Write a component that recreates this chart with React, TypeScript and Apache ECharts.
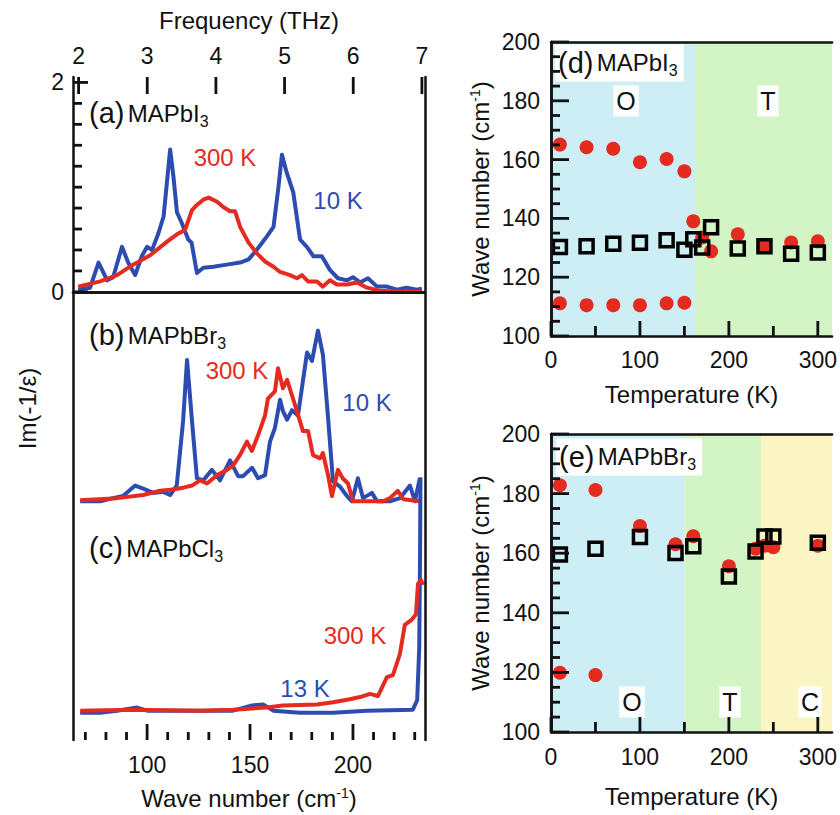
import React, { useEffect, useRef } from "react";
import * as echarts from "echarts";

// ---------- data ----------
const WN_MIN = 64;
const WN_MAX = 235;
const IM_MIN = -4.28;
const IM_MAX = 2.052;
const CM_PER_THZ = 33.356;
const freqTicks = [2, 3, 4, 5, 6, 7];
const wnMajorTicks = [100, 150, 200];
const wnMinorTicks = [70, 80, 90, 110, 120, 130, 140, 160, 170, 180, 190, 210, 220, 230];
const imMinorTicks = [0.2, 0.4, 0.6, 0.8, 1.0, 1.2, 1.4, 1.6, 1.8];
const imMajorTicks = [0, 2];
const panelOffsets = [0, -2, -4];

const a10K: [number, number][] = [
  [66.5, 0.02], [72.3, 0.04], [76.4, 0.28], [80.6, 0.11], [83.5, 0.14], [87.8, 0.43], [90.8, 0.28],
  [94.2, 0.16], [97.4, 0.34], [100, 0.43], [102.4, 0.4], [105.5, 0.56], [108, 0.72], [109.6, 1.04],
  [111.2, 1.36], [112.8, 1.1], [114.5, 0.76], [116.8, 0.66], [120, 0.5], [121.6, 0.47], [124.2, 0.18],
  [127.3, 0.23], [132.2, 0.24], [138.7, 0.26], [145.2, 0.28], [149.3, 0.31], [153.2, 0.4], [158.2, 0.53],
  [161.4, 0.62], [163.8, 1.0], [165.5, 1.31], [167.8, 1.14], [171, 0.95], [174.3, 0.5], [177.6, 0.43],
  [180.8, 0.34], [184.9, 0.34], [188.8, 0.21], [192.7, 0.13], [197.1, 0.11], [200, 0.14], [203.4, 0.09],
  [207.3, 0.13], [211.7, 0.05], [216.5, 0.05], [221.4, 0.02], [226, 0.04], [231, 0.02], [233.5, 0.03],
];
const a300K: [number, number][] = [
  [66.5, 0.05], [77.2, 0.1], [85.4, 0.16], [93.2, 0.26], [101.5, 0.35], [109.7, 0.48], [114.5, 0.55],
  [118.4, 0.59], [121.8, 0.78], [124.2, 0.83], [127.3, 0.88], [129.9, 0.9], [134, 0.86], [137, 0.81],
  [140.3, 0.77], [142.7, 0.77], [145.2, 0.62], [149.3, 0.47], [153.2, 0.37], [157.3, 0.29], [161.4, 0.24],
  [164.6, 0.19], [169.4, 0.16], [172.8, 0.13], [175.2, 0.16], [178.2, 0.1], [182.5, 0.1], [185.4, 0.05],
  [188.8, 0.11], [192.2, 0.07], [197.1, 0.07], [202, 0.09], [206.8, 0.04], [213.1, 0.01], [222.8, 0.0],
  [233.5, 0.0],
];
const b10K: [number, number][] = [
  [67.5, 0], [77.2, 0], [83.5, 0.03], [88.3, 0.05], [94.2, 0.15], [98.1, 0.12], [103, 0.08], [107.8, 0.09],
  [111.2, 0.06], [114.4, 0.15], [117.5, 0.77], [119.4, 1.35], [121.8, 0.77], [124.2, 0.22], [127.3, 0.2],
  [131.5, 0.3], [135.4, 0.2], [140.3, 0.39], [144.2, 0.24], [146.6, 0.24], [151, 0.32], [153.9, 0.22],
  [157.3, 0.25], [159.7, 0.57], [162.1, 0.7], [164.6, 0.97], [166, 0.86], [168, 0.78], [170.4, 0.87],
  [173.3, 0.82], [175.7, 1.15], [177.7, 1.42], [180.1, 1.34], [183, 1.63], [185.4, 1.4], [187.9, 0.8],
  [190.3, 0.19], [193.7, 0.14], [197.1, 0.05], [199.5, 0], [202.4, 0.22], [204.9, 0.03], [209.2, 0.08],
  [211.7, 0], [218, 0], [222.8, 0.03], [227.7, 0.15], [230.1, 0], [232.5, 0.22],
];
const b300K: [number, number][] = [
  [67.5, 0.01], [85.4, 0.03], [98, 0.06], [106.3, 0.1], [111.2, 0.11], [117.5, 0.13], [121.8, 0.15],
  [125.7, 0.2], [129.1, 0.17], [134, 0.25], [138.8, 0.3], [141.7, 0.34], [145.1, 0.44], [148.5, 0.57],
  [150.9, 0.48], [153.9, 0.63], [157.3, 0.82], [158.7, 0.98], [162.1, 1.05], [163.6, 1.27], [166, 1.08],
  [168, 1.16], [170.4, 1.01], [172.8, 0.86], [175.7, 0.67], [178.2, 0.67], [180.6, 0.44], [184, 0.41],
  [185.4, 0.46], [187.9, 0.25], [189.8, 0.05], [192.7, 0.3], [195, 0.22], [197.6, 0.17], [200, 0],
  [214.6, 0], [218, 0.03], [221.8, 0.1], [224.5, 0.02], [232.5, 0],
];
const c13K: [number, number][] = [
  [67.5, -0.02], [77.2, -0.02], [85.4, 0], [95.1, 0.03], [100, 0], [141.7, 0], [151, 0.05], [156.3, 0.06],
  [161.4, 0], [174.3, -0.02], [190.3, -0.02], [206.8, 0], [229.1, 0.01], [231.2, 0.1], [232.2, 0.6],
  [232.6, 1.5], [232.8, 2.23],
];
const c300K: [number, number][] = [
  [67.5, 0], [93.2, 0.01], [125.7, 0], [141.7, 0.01], [158.2, 0.03], [166, 0.05], [182.5, 0.06],
  [190.3, 0.08], [198.5, 0.11], [203.4, 0.13], [208.3, 0.16], [212.1, 0.14], [216.5, 0.32], [219.4, 0.34],
  [222.8, 0.54], [225.2, 0.82], [228.6, 0.87], [230.6, 0.92], [231.6, 1.21], [233, 1.25], [234, 1.2],
];

const T_MAX = 316;
const W_MIN = 100;
const W_MAX = 200;
const tMajorTicks = [0, 100, 200, 300];
const tMinorTicks = [50, 150, 250];
const wMajorTicks = [100, 120, 140, 160, 180, 200];
const wMinorTicks = [105, 110, 115, 125, 130, 135, 145, 150, 155, 165, 170, 175, 185, 190, 195];

const dPhaseEdges = [0, 162, T_MAX];
const dPhaseNames = ["O", "T"];
const ePhaseEdges = [0, 150, 236, T_MAX];
const ePhaseNames = ["O", "T", "C"];

const dCircles: [number, number][] = [
  [10, 165.1], [40, 164.2], [70, 163.7], [100, 159.1], [130, 160.2], [150, 156.0],
  [10, 111.1], [40, 110.5], [70, 110.5], [100, 110.5], [130, 111.1], [150, 111.3],
  [160, 139.0], [170, 133.5], [180, 128.8], [210, 134.6], [240, 130.5], [270, 131.8], [300, 132.2],
];
const dSquares: [number, number][] = [
  [10, 130.3], [40, 130.5], [70, 131.4], [100, 131.7], [130, 132.6], [150, 129.3], [160, 132.9],
  [170, 130.1], [180, 137.0], [210, 129.8], [240, 130.5], [270, 128.0], [300, 128.4],
];
const eCircles: [number, number][] = [
  [10, 182.8], [50, 181.2], [100, 169.1], [140, 163.0], [160, 165.7], [200, 155.6], [230, 161.5],
  [240, 162.5], [250, 162.0], [300, 162.5], [10, 119.9], [50, 119.1],
];
const eSquares: [number, number][] = [
  [10, 159.6], [50, 161.5], [100, 165.4], [140, 160.1], [160, 162.3], [200, 152.2], [230, 160.6],
  [240, 165.6], [250, 165.6], [300, 163.5],
];

// ---------- style ----------
const FONT = "Liberation Sans, Arial, Helvetica, sans-serif";
const BLUE = "#2c4cb2";
const RED = "#e52a20";
const PHASE_COLORS = ["#cdeef4", "#d3f4c4", "#fbf5c4"];
const AX = "#111";

function App() {
  const ref = useRef<HTMLDivElement>(null);
  useEffect(() => {
    if (!ref.current) return;
    const chart = echarts.init(ref.current, null, { renderer: "svg" });

    const tickLabel = (margin: number, values: number[], fmt?: (v: number) => string) => ({
      show: true,
      margin,
      color: AX,
      fontSize: 23,
      fontFamily: FONT,
      customValues: values,
      ...(fmt ? { formatter: fmt } : {}),
    });
    const nameStyle = {
      color: AX,
      fontSize: 24,
      fontFamily: FONT,
      rich: { sup: { fontSize: 14, fontFamily: FONT, color: AX, verticalAlign: "top", lineHeight: 24 } },
    };
    const line = { show: true, lineStyle: { color: AX, width: 2.5 } };
    const hidden = { show: false };

    const axisBase = (gridIndex: number, position: string, min: number, max: number) => ({
      type: "value", gridIndex, position, min, max, z: 5,
      axisLine: line, axisTick: hidden, axisLabel: hidden, splitLine: hidden,
    });

    const xAxis: any[] = [
      {
        ...axisBase(0, "bottom", WN_MIN, WN_MAX),
        axisLabel: tickLabel(13, wnMajorTicks),
        name: "Wave number (cm{sup|-1})", nameLocation: "middle", nameGap: 46, nameTextStyle: nameStyle,
      },
      {
        ...axisBase(0, "top", WN_MIN / CM_PER_THZ, WN_MAX / CM_PER_THZ),
        axisLabel: tickLabel(10, freqTicks, (v: number) => String(Math.round(v))),
        name: "Frequency (THz)", nameLocation: "middle", nameGap: 45, nameTextStyle: nameStyle,
      },
      {
        ...axisBase(1, "bottom", 0, T_MAX),
        axisLabel: tickLabel(12, tMajorTicks),
        name: "Temperature (K)", nameLocation: "middle", nameGap: 46, nameTextStyle: nameStyle,
      },
      axisBase(1, "top", 0, T_MAX),
      {
        ...axisBase(2, "bottom", 0, T_MAX),
        axisLabel: tickLabel(13, tMajorTicks),
        name: "Temperature (K)", nameLocation: "middle", nameGap: 52, nameTextStyle: nameStyle,
      },
      axisBase(2, "top", 0, T_MAX),
    ];

    const yAxis: any[] = [
      {
        ...axisBase(0, "left", IM_MIN, IM_MAX),
        axisLabel: tickLabel(9, imMajorTicks, (v: number) => String(Math.round(v))),
        name: "Im(-1/ε)", nameLocation: "middle", nameGap: 34, nameTextStyle: nameStyle,
      },
      axisBase(0, "right", IM_MIN, IM_MAX),
      {
        ...axisBase(1, "left", W_MIN, W_MAX),
        axisLabel: tickLabel(11, wMajorTicks),
        name: "Wave number (cm{sup|-1})", nameLocation: "middle", nameGap: 59, nameTextStyle: nameStyle,
      },
      axisBase(1, "right", W_MIN, W_MAX),
      {
        ...axisBase(2, "left", W_MIN, W_MAX),
        axisLabel: tickLabel(11, wMajorTicks),
        name: "Wave number (cm{sup|-1})", nameLocation: "middle", nameGap: 59, nameTextStyle: nameStyle,
      },
      axisBase(2, "right", W_MIN, W_MAX),
    ];

    const spectrum = (data: [number, number][], offset: number, color: string, name: string) => ({
      type: "line", name, xAxisIndex: 0, yAxisIndex: 0, z: 3,
      data: data.map(([k, v]) => [k, v + offset]),
      symbol: "none", showSymbol: false, smooth: false,
      lineStyle: { color, width: 4, join: "round" },
      silent: true,
    });

    const phaseSeries = (edges: number[], xi: number, yi: number) => ({
      type: "line", xAxisIndex: xi, yAxisIndex: yi, data: [], z: 1, silent: true,
      markArea: {
        silent: true,
        data: edges.slice(0, -1).map((e, i) => [
          { xAxis: e, itemStyle: { color: PHASE_COLORS[i], opacity: 1 } },
          { xAxis: edges[i + 1] },
        ]),
      },
    });

    const circles = (data: [number, number][], xi: number, yi: number, size: number) => ({
      type: "scatter", xAxisIndex: xi, yAxisIndex: yi, data, z: 3, silent: true,
      symbol: "circle", symbolSize: size, itemStyle: { color: RED, opacity: 1 },
    });
    const squares = (data: [number, number][], xi: number, yi: number, size: number) => ({
      type: "scatter", xAxisIndex: xi, yAxisIndex: yi, data, z: 4, silent: true,
      symbol: "rect", symbolSize: size,
      itemStyle: { color: "rgba(0,0,0,0)", borderColor: "#000", borderWidth: 3.5, opacity: 1 },
    });

    const txt = (text: string, x: number, y: number, fill: string, fontSize = 24, extra: any = {}) => ({
      type: "text", x, y, z: 10, silent: true,
      style: { text, fill, fontSize, fontFamily: FONT, align: "center", verticalAlign: "middle", ...extra },
    });
    const richTitle = (tag: string, compound: string, sub: string, x: number, y: number, bg: boolean) => ({
      type: "text", x, y, z: 10, silent: true,
      style: {
        text: `{p|(${tag})} {m|${compound}}{s|${sub}}`,
        fill: "#111",
        fontFamily: FONT,
        align: "left",
        verticalAlign: "middle",
        ...(bg ? { backgroundColor: "#fff", padding: [2, 6, 3, 3] } : {}),
        rich: {
          p: { fontSize: 29, fontFamily: FONT, fill: "#111", lineHeight: 32, verticalAlign: "middle" },
          m: { fontSize: 24, fontFamily: FONT, fill: "#111", lineHeight: 32, verticalAlign: "middle" },
          s: { fontSize: 16, fontFamily: FONT, fill: "#111", lineHeight: 16, verticalAlign: "bottom" },
        },
      },
    });
    const phaseLabel = (t: string, x: number, y: number) =>
      txt(t, x, y, "#111", 25, { backgroundColor: "#fff", padding: [3, 3, 3, 3] });

    const labels: any[] = [
      richTitle("a", "MAPbI", "3", 89, 113, false),
      richTitle("b", "MAPbBr", "3", 89, 335, false),
      richTitle("c", "MAPbCl", "3", 89, 548, false),
      txt("300 K", 225, 157, RED),
      txt("10 K", 338, 200, BLUE),
      txt("300 K", 237, 370, RED),
      txt("10 K", 367, 402, BLUE),
      txt("300 K", 355, 635, RED),
      txt("13 K", 305, 688, BLUE),
      richTitle("d", "MAPbI", "3", 555, 63, true),
      richTitle("e", "MAPbBr", "3", 556, 457, true),
      phaseLabel(dPhaseNames[0], 626, 101),
      phaseLabel(dPhaseNames[1], 768, 101),
      phaseLabel(ePhaseNames[0], 632, 702),
      phaseLabel(ePhaseNames[1], 730, 702),
      phaseLabel(ePhaseNames[2], 810, 702),
    ];

    const option: any = {
      animation: false,
      backgroundColor: "#fff",
      grid: [
        { left: 73, top: 77, width: 352, height: 665, show: false },
        { left: 551, top: 42, width: 285, height: 294, show: false },
        { left: 551, top: 434, width: 285, height: 298, show: false },
      ],
      xAxis,
      yAxis,
      series: [
        spectrum(a10K, panelOffsets[0], BLUE, "a 10 K"),
        spectrum(a300K, panelOffsets[0], RED, "a 300 K"),
        spectrum(b10K, panelOffsets[1], BLUE, "b 10 K"),
        spectrum(b300K, panelOffsets[1], RED, "b 300 K"),
        spectrum(c13K, panelOffsets[2], BLUE, "c 13 K"),
        spectrum(c300K, panelOffsets[2], RED, "c 300 K"),
        phaseSeries(dPhaseEdges, 2, 2),
        circles(dCircles, 2, 2, 14),
        squares(dSquares, 2, 2, 13),
        phaseSeries(ePhaseEdges, 4, 4),
        circles(eCircles, 4, 4, 14),
        squares(eSquares, 4, 4, 13),
      ],
      graphic: labels,
    };
    chart.setOption(option);

    // tick marks, positioned through the axes' own scales
    const TW = 2.8;
    const ticks: any[] = [];
    const px = (xi: number, v: number) => chart.convertToPixel({ xAxisIndex: xi } as any, v) as unknown as number;
    const py = (yi: number, v: number) => chart.convertToPixel({ yAxisIndex: yi } as any, v) as unknown as number;
    const tickLine = (x1: number, y1: number, x2: number, y2: number) => ({
      type: "line", z: 20, silent: true,
      shape: { x1, y1, x2, y2 },
      style: { stroke: AX, lineWidth: TW },
    });
    const vTicks = (values: number[], xi: number, yi: number, fixed: number, len: number) => {
      const y0 = py(yi, fixed);
      values.forEach((v) => {
        const x = px(xi, v);
        if (Number.isFinite(x) && Number.isFinite(y0)) ticks.push(tickLine(x, y0, x, y0 + len));
      });
    };
    const hTicks = (values: number[], xi: number, yi: number, fixed: number, len: number) => {
      const x0 = px(xi, fixed);
      values.forEach((v) => {
        const y = py(yi, v);
        if (Number.isFinite(y) && Number.isFinite(x0)) ticks.push(tickLine(x0, y, x0 + len, y));
      });
    };
    // left panel
    vTicks(wnMajorTicks, 0, 0, IM_MIN, -16);
    vTicks(wnMinorTicks, 0, 0, IM_MIN, -8);
    vTicks(freqTicks, 1, 0, IM_MAX, 17);
    hTicks(imMajorTicks, 0, 0, WN_MIN, 15);
    hTicks(imMinorTicks, 0, 0, WN_MIN, 9);
    // panel d
    vTicks(tMajorTicks, 2, 2, W_MIN, -15);
    vTicks(tMinorTicks, 2, 2, W_MIN, -10);
    hTicks(wMajorTicks, 2, 2, 0, 18);
    hTicks(wMinorTicks, 2, 2, 0, 9);
    // panel e
    vTicks(tMajorTicks, 4, 4, W_MIN, -15);
    vTicks(tMinorTicks, 4, 4, W_MIN, -10);
    hTicks(wMajorTicks, 4, 4, 0, 18);
    hTicks(wMinorTicks, 4, 4, 0, 9);

    chart.setOption({ graphic: [...labels, ...ticks] });
    return () => chart.dispose();
  }, []);

  return (
    <div
      ref={ref}
      style={{ position: "fixed", left: 0, top: 0, width: 840, height: 815, background: "#fff" }}
    />
  );
}

export default App;
